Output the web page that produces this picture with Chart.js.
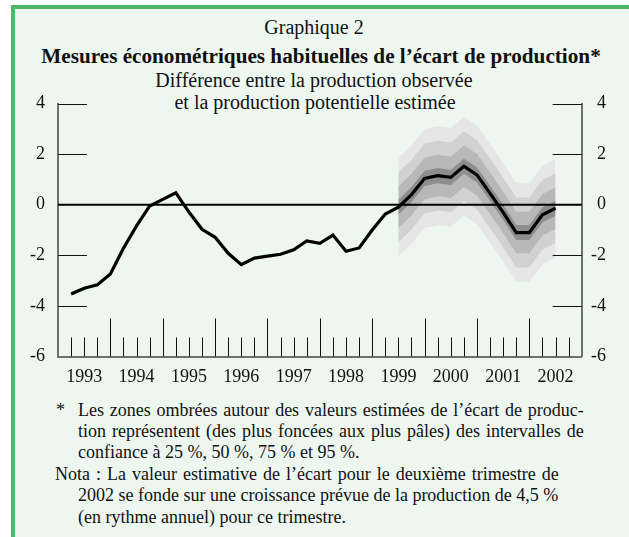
<!DOCTYPE html>
<html><head><meta charset="utf-8">
<script src="https://cdn.jsdelivr.net/npm/chart.js@4"></script>
<style>
html,body{margin:0;padding:0}
body{background:#fff;width:629px;height:537px;overflow:hidden;position:relative;font-family:"Liberation Serif","Times New Roman",serif;color:#111}
#frame{position:absolute;left:11px;top:5px;width:614px;height:528px;background:#edf7f0;border-left:4px solid #4cb86a;border-top:4px solid #4cb86a}
#c{position:absolute;left:0;top:0}
.t{position:absolute;white-space:nowrap;line-height:1;transform:translate(-50%,-50%)}
.n{position:absolute;white-space:nowrap;line-height:1;transform:translateY(-50%);font-size:18px}
</style></head>
<body>
<div id="frame"></div>
<div class="t" style="left:314px;top:27px;font-size:20px">Graphique 2</div>
<div class="t" style="left:321px;top:57px;font-size:21.2px;font-weight:bold">Mesures économétriques habituelles de l’écart de production*</div>
<div class="t" style="left:314px;top:80px;font-size:20px">Différence entre la production observée</div>
<div class="t" style="left:315px;top:102px;font-size:20px">et la production potentielle estimée</div>
<canvas id="c" width="629" height="400"></canvas>
<div class="n" style="left:56px;top:410px">*</div>
<div class="n" style="left:78px;top:410px;word-spacing:1.3px">Les zones ombrées autour des valeurs estimées de l’écart de produc-</div>
<div class="n" style="left:78px;top:431px;word-spacing:1.5px">tion représentent (des plus foncées aux plus pâles) des intervalles de</div>
<div class="n" style="left:78px;top:452px">confiance à 25 %, 50 %, 75 % et 95 %.</div>
<div class="n" style="left:55px;top:474px;word-spacing:1.5px">Nota : La valeur estimative de l’écart pour le deuxième trimestre de</div>
<div class="n" style="left:78px;top:495px">2002 se fonde sur une croissance prévue de la production de 4,5 %</div>
<div class="n" style="left:78px;top:517px">(en rythme annuel) pour ce trimestre.</div>
<script>
// ---- data ----
const years = ['1993','1994','1995','1996','1997','1998','1999','2000','2001','2002'];
// quarterly output gap, 1993Q1 .. 2002Q2
const gap = [
  -3.53, -3.30, -3.17, -2.74,
  -1.72, -0.84, -0.05, 0.21,
  0.47, -0.29, -0.97, -1.29,
  -1.92, -2.37, -2.11, -2.03,
  -1.96, -1.78, -1.43, -1.53,
  -1.20, -1.84, -1.71, -1.00,
  -0.37, -0.10, 0.40, 1.04,
  1.15, 1.08, 1.52, 1.18,
  0.45, -0.30, -1.10, -1.10,
  -0.40, -0.14
];
const bandLevels = ['25 %', '50 %', '75 %', '95 %'];
const bandHalfWidth = [0.30, 0.82, 1.38, 1.95];
const bandFirstQuarter = 25; // 1999Q2
const yTicks = [-6, -4, -2, 0, 2, 4];

// ---- styles ----
const bandColors = ['#8e8e8e', '#b8b8b8', '#d1d1d1', '#e5e6e5'];
const FONT = {family: '"Liberation Serif","Times New Roman",serif', size: 18};
const AXIS_GREY = '#707070';

const linePts = gap.map((v, i) => ({x: i + 1, y: v}));
const datasets = [{
  label: 'Écart de production', data: linePts, borderColor: '#000', borderWidth: 3.2,
  pointRadius: 0, fill: false, tension: 0, borderJoinStyle: 'miter'
}];
bandLevels.forEach((lvl, b) => {
  const h = bandHalfWidth[b];
  const sub = gap.slice(bandFirstQuarter);
  datasets.push({
    label: lvl + ' haut', data: sub.map((v, k) => ({x: bandFirstQuarter + k + 1, y: v + h})),
    borderWidth: 0, borderColor: 'transparent', backgroundColor: bandColors[b], pointRadius: 0, fill: '+1', tension: 0
  });
  datasets.push({
    label: lvl + ' bas', data: sub.map((v, k) => ({x: bandFirstQuarter + k + 1, y: v - h})),
    borderWidth: 0, borderColor: 'transparent', pointRadius: 0, fill: false, tension: 0
  });
});

const innerTicks = {
  id: 'innerTicks',
  afterDatasetDraw(chart, args) {
    if (args.index !== 1) return;
    const {ctx, chartArea: a, scales: {y}} = chart;
    const y0 = y.getPixelForValue(0);
    ctx.save();
    ctx.strokeStyle = '#000'; ctx.lineWidth = 2;
    ctx.beginPath(); ctx.moveTo(a.left, y0); ctx.lineTo(a.right, y0); ctx.stroke();
    ctx.restore();
  },
  afterDraw(chart) {
    const {ctx, chartArea: a, scales: {x, y}} = chart;
    ctx.save();
    ctx.strokeStyle = '#111'; ctx.lineWidth = 1;
    ctx.beginPath();
    for (let q = 1; q < years.length * 4; q++) {
      const px = Math.round(x.getPixelForValue(q)) + 0.5;
      const len = (q % 4 === 0) ? 38 : 19;
      ctx.moveTo(px, a.bottom); ctx.lineTo(px, a.bottom - len);
    }
    yTicks.forEach(v => {
      if (v === 0 || v === yTicks[0]) return;
      const py = Math.round(y.getPixelForValue(v)) + 0.5;
      ctx.moveTo(a.left, py); ctx.lineTo(a.left + 29, py);
      ctx.moveTo(a.right - 29, py); ctx.lineTo(a.right, py);
    });
    ctx.stroke();
    ctx.restore();
  }
};

const yAxis = (pos) => ({
  type: 'linear', position: pos, min: -6, max: 4,
  afterBuildTicks: s => { s.ticks = yTicks.map(v => ({value: v})); },
  ticks: {font: FONT, color: '#111', padding: pos === 'left' ? 13 : 10, crossAlign: pos === 'left' ? 'near' : 'far'},
  grid: {display: false, drawTicks: false},
  border: {display: true, color: AXIS_GREY, width: 2},
  afterFit: s => { s.width = pos === 'left' ? 58 : 24.3; }
});

new Chart(document.getElementById('c'), {
  type: 'line',
  data: {datasets},
  options: {
    responsive: false, animation: false, devicePixelRatio: 1,
    layout: {padding: {top: 103.5, right: 23, left: 0, bottom: 0}},
    plugins: {legend: {display: false}, tooltip: {enabled: false}, filler: {propagate: false}},
    scales: {
      x: {
        type: 'linear', position: 'bottom', min: 0, max: years.length * 4,
        afterBuildTicks: s => { s.ticks = years.map((yr, i) => ({value: i * 4 + 2})); },
        ticks: {font: FONT, color: '#111', padding: 10, maxRotation: 0, autoSkip: false,
                callback: (v, i) => years[i]},
        grid: {display: false, drawTicks: false},
        border: {display: true, color: AXIS_GREY, width: 2},
        afterFit: s => { s.height = 43.5; }
      },
      y: yAxis('left'),
      y2: yAxis('right')
    }
  },
  plugins: [innerTicks]
});
</script>
</body></html>
